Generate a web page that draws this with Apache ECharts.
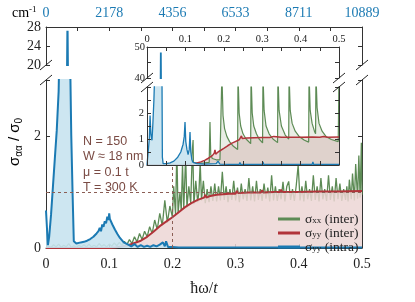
<!DOCTYPE html>
<html><head><meta charset="utf-8">
<script src="https://cdn.jsdelivr.net/npm/echarts@6/dist/echarts.min.js"></script>
<style>html,body{margin:0;padding:0;background:#fff}#c{width:415px;height:302px}</style>
</head><body><div id="c"></div>
<script>
// ---- data ----
const cmLabels = ['0','2178','4356','6533','8711','10889'];
const seriesNames = ['σxx (inter)','σyy (inter)','σyy (intra)'];
const params = ['N = 150','W ≈ 18 nm','μ = 0.1 t','T = 300 K'];

const xxMain = [[0,0],[0.004,0.03],[0.008,0.01],[0.012,0.06],[0.016,0.02],[0.02,0.07],[0.024,0.01],[0.028,0.05],[0.032,0.02],[0.036,0.08],[0.04,0.01],[0.044,0.04],[0.048,0.01],[0.052,0.05],[0.056,0.02],[0.06,0.06],[0.064,0.02],[0.068,0.07],[0.072,0.02],[0.076,0.05],[0.08,0.02],[0.084,0.08],[0.088,0.03],[0.092,0.06],[0.096,0.02],[0.1,0.07],[0.104,0.03],[0.108,0.09],[0.112,0.04],[0.116,0.1],[0.12,0.05],
[0.124,0.12],[0.128,0.06],[0.132,0.15],[0.136,0.08],[0.14,0.2],[0.144,0.11],[0.148,0.26],[0.152,0.15],[0.156,0.3],[0.16,0.2],[0.164,0.38],[0.168,0.26],[0.172,0.5],[0.176,0.33],[0.18,0.62],[0.184,0.4],[0.188,0.85],[0.192,0.45],[0.196,0.75],[0.2,0.55],[0.202,1.1],[0.205,0.6],[0.207,1.75],[0.209,0.62],[0.212,1.0],[0.214,0.66],[0.216,1.5],[0.218,0.7],[0.221,1.65],[0.223,0.72],[0.226,1.1],[0.229,0.8],[0.232,1.9],[0.234,0.78],[0.237,1.2],[0.24,0.82],[0.242,1.0],[0.244,1.53],[0.246,0.85],[0.249,1.2],[0.252,0.8],
[0.255,1.05],[0.258,0.82],[0.261,1.1],[0.264,0.84],[0.267,1.15],[0.27,0.83],[0.273,1.1],[0.276,0.85],[0.279,1.36],[0.282,0.86],[0.285,1.1],[0.288,0.82],[0.291,1.05],[0.294,0.86],[0.297,1.2],[0.3,0.85],[0.303,1.08],[0.306,0.82],[0.309,1.15],[0.312,0.87],[0.315,1.05],[0.318,0.84],[0.321,1.25],[0.324,0.85],[0.327,1.1],[0.33,0.83],[0.333,1.2],[0.336,0.86],[0.339,1.05],[0.342,0.84],[0.345,1.15],[0.348,0.88],[0.351,1.08],[0.354,0.83],[0.357,1.3],[0.36,0.85],[0.363,1.1],[0.366,0.84],[0.369,1.05],[0.372,0.87],[0.375,1.18],[0.378,0.83],[0.381,1.1],[0.384,1.19],[0.387,0.86],[0.39,1.05],[0.393,0.84],[0.396,1.12],[0.399,1.48],[0.402,0.85],[0.405,1.1],[0.408,0.83],[0.411,1.2],[0.414,0.87],[0.417,1.05],[0.42,0.84],[0.423,1.3],[0.426,0.86],[0.429,1.1],[0.432,0.83],[0.435,1.25],[0.438,0.87],[0.441,1.05],[0.444,0.84],[0.447,1.3],[0.45,0.86],[0.453,1.1],[0.456,0.83],[0.459,1.25],[0.462,0.87],[0.465,1.15],[0.468,0.84],[0.471,1.05],[0.474,0.86],[0.476,1.1],[0.478,0.83],[0.48,1.22],[0.483,0.87],[0.485,1.33],[0.488,0.85],[0.49,1.5],[0.493,0.88],[0.495,1.65],[0.497,0.9],[0.499,1.88],[0.5,0.95]];

const yyMain = [[0,0],[0.1,0],[0.11,0.01],[0.12,0.025],[0.13,0.05],[0.14,0.09],[0.15,0.13],[0.16,0.2],[0.17,0.29],[0.18,0.39],[0.19,0.47],[0.2,0.55],[0.21,0.64],[0.22,0.73],[0.23,0.8],[0.24,0.86],[0.25,0.9],[0.252,0.95],[0.254,0.9],[0.26,0.93],[0.27,0.95],[0.28,0.96],[0.29,0.97],[0.3,0.97],[0.302,1.02],[0.304,0.98],[0.32,0.99],[0.34,0.99],[0.342,1.03],[0.344,0.99],[0.36,1.0],[0.37,1.0],[0.372,1.04],[0.374,1.0],[0.4,1.0],[0.43,1.01],[0.432,1.04],[0.434,1.01],[0.46,1.01],[0.5,1.02]];

const intraMain = [[0,0.67],[0.002,0.67],[0.003,0.05],[0.005,0.2],[0.008,0.6],[0.011,1.1],[0.014,1.6],[0.017,2.1],[0.02,2.8],[0.022,4],[0.026,6],[0.03,8],[0.033,12],[0.034,27.2],[0.035,12],[0.037,6],[0.038,3.5],[0.04,2.0],[0.042,1.0],[0.044,0.12],[0.048,0.08],[0.055,0.1],[0.06,0.11],[0.065,0.13],[0.07,0.16],[0.075,0.2],[0.08,0.26],[0.083,0.3],[0.085,0.36],[0.087,0.3],[0.089,0.42],[0.091,0.38],[0.093,0.48],[0.095,0.44],[0.097,0.56],[0.099,0.5],[0.1,0.62],[0.101,0.52],[0.103,0.55],[0.105,0.42],[0.107,0.45],[0.109,0.33],[0.111,0.36],[0.113,0.25],[0.115,0.27],[0.117,0.18],[0.12,0.14],[0.123,0.1],[0.126,0.09],[0.13,0.06],[0.135,0.03],[0.14,0.07],[0.145,0.02],[0.15,0.05],[0.155,0.02],[0.16,0.04],[0.165,0.02],[0.17,0.05],[0.175,0.03],[0.18,0.06],[0.185,0.1],[0.188,0.03],[0.19,0.12],[0.193,0.02],[0.2,0.02],[0.21,0.01],[0.25,0.01],[0.5,0.01]];

const xxInset = [[0,0],[0.02,0.02],[0.04,0.01],[0.06,0.03],[0.08,0.02],[0.1,0.03],[0.115,0.03],[0.119,0.05],[0.12,0.96],[0.121,0.1],[0.13,0.06],[0.15,0.08],[0.162,0.1],[0.164,1.65],[0.166,0.4],[0.17,0.25],[0.18,0.2],[0.19,0.2],[0.194,0.22],[0.195,3.5],[0.198,1.9],[0.202,1.4],[0.208,1.1],[0.215,0.9],[0.225,0.72],[0.236,0.6],[0.237,3.5],[0.24,2.0],[0.244,1.5],[0.25,1.2],[0.258,1.0],[0.27,0.82],[0.271,3.5],[0.274,2.0],[0.278,1.5],[0.285,1.2],[0.292,1.0],[0.301,0.85],[0.302,3.5],[0.305,2.1],[0.31,1.5],[0.318,1.2],[0.328,1.0],[0.34,0.86],[0.341,3.5],[0.344,2.1],[0.35,1.5],[0.36,1.15],[0.369,1.0],[0.37,3.5],[0.373,2.1],[0.378,1.6],[0.386,1.3],[0.396,1.1],[0.41,0.95],[0.421,0.88],[0.422,3.5],[0.425,2.1],[0.43,1.6],[0.436,1.3],[0.439,1.2],[0.44,3.5],[0.443,2.2],[0.448,1.6],[0.456,1.3],[0.466,1.1],[0.48,0.98],[0.498,0.9],[0.5,3.5]];

const yyInset = [[0,0],[0.1,0],[0.11,0.01],[0.12,0.03],[0.13,0.08],[0.14,0.12],[0.15,0.18],[0.16,0.26],[0.17,0.36],[0.175,0.45],[0.177,0.58],[0.179,0.42],[0.185,0.5],[0.19,0.56],[0.2,0.64],[0.21,0.74],[0.22,0.83],[0.23,0.9],[0.24,0.97],[0.245,1.02],[0.246,1.12],[0.248,1.02],[0.26,1.04],[0.28,1.05],[0.3,1.06],[0.32,1.06],[0.33,1.1],[0.335,1.06],[0.35,1.07],[0.38,1.07],[0.4,1.07],[0.43,1.08],[0.45,1.07],[0.46,1.1],[0.47,1.07],[0.5,1.08]];

const intraInset = [[0,0],[0.004,0],[0.006,1.0],[0.008,1.9],[0.01,1.2],[0.013,0.95],[0.015,1.5],[0.018,2.5],[0.02,3.5],[0.025,5],[0.03,6],[0.033,8],[0.035,30],[0.036,48.2],[0.037,30],[0.038,6],[0.039,3.5],[0.04,0.3],[0.042,0.05],[0.05,0.05],[0.06,0.08],[0.07,0.15],[0.08,0.3],[0.088,0.5],[0.094,0.8],[0.097,1.1],[0.099,1.65],[0.101,0.9],[0.104,0.6],[0.107,0.4],[0.11,0.6],[0.112,1.27],[0.114,0.5],[0.117,0.2],[0.12,0.1],[0.13,0.05],[0.15,0.03],[0.18,0.05],[0.185,0.15],[0.19,0.03],[0.24,0.02],[0.242,0.1],[0.244,0.02],[0.3,0.02],[0.302,0.12],[0.304,0.02],[0.35,0.02],[0.352,0.08],[0.354,0.02],[0.43,0.02],[0.432,0.12],[0.434,0.02],[0.5,0.02]];

// ---- styles ----
const BLUE='#1b7ab3', BLUEF='#c8e3f0', GREEN='#5d8b55', RED='#b1343a', PINK='#ecd6d5', BROWN='#7a4b44';
const SERIF='Liberation Serif, Times New Roman, serif';
const SANS='Liberation Sans, Arial, sans-serif';
const axLine={lineStyle:{color:'#333',width:1}};

function xAx(grid,pos,opts){return Object.assign({type:'value',gridIndex:grid,position:pos,min:0,max:0.5,interval:0.05,
  axisLine:axLine,axisTick:{inside:true,length:4,lineStyle:{color:'#333'}},splitLine:{show:false},
  axisLabel:{show:false}},opts);}
function yAx(grid,pos,min,max,interval,opts){return Object.assign({type:'value',gridIndex:grid,position:pos,min:min,max:max,interval:interval,
  axisLine:{show:true,lineStyle:{color:'#333',width:1}},axisTick:{inside:true,length:4,lineStyle:{color:'#333'}},splitLine:{show:false},
  axisLabel:{show:false}},opts);}

const chart=echarts.init(document.getElementById('c'),null,{renderer:'canvas'});
const option={
  animation:false,
  backgroundColor:'#fff',
  grid:[
    {left:46,width:316,top:27,height:38},
    {left:46,width:316,top:80,height:174},
    {left:147,width:192,top:47,height:31,zlevel:1,z:12},
    {left:147,width:192,top:87,height:78,zlevel:1,z:12},
    {left:147,width:192,top:47,height:118,show:true,backgroundColor:'#fff',borderWidth:0,zlevel:1,z:0}
  ],
  xAxis:[
    xAx(0,'top',{axisLabel:{show:true,margin:7,color:BLUE,fontFamily:SERIF,fontSize:14,
      formatter:function(v){const k=Math.round(v/0.05);return k%2?'':cmLabels[k/2];}}}),
    xAx(1,'bottom',{interval:0.1,axisLabel:{show:true,margin:9,color:'#222',fontFamily:SERIF,fontSize:14},
      name:'{n|ħω/}{i|t}',nameLocation:'middle',nameGap:33,
      nameTextStyle:{rich:{n:{fontFamily:SERIF,fontSize:16,color:'#222'},i:{fontFamily:SERIF,fontSize:16,fontStyle:'italic',color:'#222'}}}}),
    xAx(2,'top',{zlevel:1,z:12,axisLabel:{show:true,margin:2,color:'#222',fontFamily:SERIF,fontSize:10.5,
      formatter:function(v){const k=Math.round(v/0.05);return k%2?'':(k/20).toString();}}}),
    xAx(3,'bottom',{zlevel:1,z:12}),
    xAx(4,'bottom',{show:false,zlevel:1})
  ],
  yAxis:[
    yAx(0,'left',20,28,4,{axisLabel:{show:true,margin:5,color:'#222',fontFamily:SERIF,fontSize:14}}),
    yAx(0,'right',20,28,4),
    yAx(1,'left',0,3,1,{axisLabel:{show:true,margin:5,color:'#222',fontFamily:SERIF,fontSize:14,
      formatter:function(v){return (v===0||v===2)?String(v):'';}}}),
    yAx(1,'right',0,3,1),
    yAx(2,'left',40,50,5,{zlevel:1,z:12,axisLabel:{show:true,margin:2,color:'#222',fontFamily:SERIF,fontSize:10.5,
      formatter:function(v){return v===45?'':String(v);}}}),
    yAx(2,'right',40,50,5,{zlevel:1,z:12}),
    yAx(3,'left',0,3,0.5,{zlevel:1,z:12,axisLabel:{show:true,margin:3,color:'#222',fontFamily:SERIF,fontSize:10.5,
      formatter:function(v){return (v===0||v===1||v===2)?String(v):'';}}}),
    yAx(3,'right',0,3,0.5,{zlevel:1,z:12}),
    yAx(4,'left',0,1,1,{show:false,zlevel:1})
  ],
  legend:{
    data:seriesNames, orient:'vertical', left:273, top:207, itemWidth:22, itemHeight:3, itemGap:0, icon:'rect', z:20,
    formatter:function(name){const m=name.match(/^σ(\w+) (.*)$/);return '{g|σ}{s|'+m[1]+'}{g| '+m[2]+'}';},
    textStyle:{rich:{g:{fontFamily:SERIF,fontSize:13.5,color:'#222',lineHeight:13},s:{fontFamily:SERIF,fontSize:9,color:'#222',lineHeight:8,verticalAlign:'bottom'}}}
  },
  series:[
    {name:seriesNames[0],type:'line',xAxisIndex:1,yAxisIndex:2,data:xxMain,showSymbol:false,symbol:'none',z:2,clip:true,
      lineStyle:{color:GREEN,width:1.3},itemStyle:{color:GREEN},
      markLine:{silent:true,symbol:'none',label:{show:false},lineStyle:{color:'#8b5e55',type:[3,3],width:1},
        data:[{yAxis:1},{xAxis:0.2}]}},
    {name:seriesNames[1],type:'line',xAxisIndex:1,yAxisIndex:2,data:yyMain,showSymbol:false,symbol:'none',z:3,clip:true,
      lineStyle:{color:RED,width:2},itemStyle:{color:RED},areaStyle:{color:PINK,opacity:0.85}},
    {name:seriesNames[2],type:'line',xAxisIndex:1,yAxisIndex:2,data:intraMain,showSymbol:false,symbol:'none',z:4,clip:true,
      lineStyle:{color:BLUE,width:2},itemStyle:{color:BLUE},areaStyle:{color:BLUEF,opacity:0.9}},
    {name:seriesNames[2],type:'line',xAxisIndex:0,yAxisIndex:0,data:intraMain,showSymbol:false,symbol:'none',z:4,clip:true,
      lineStyle:{color:BLUE,width:2.2},itemStyle:{color:BLUE}},
    {name:seriesNames[0],type:'line',xAxisIndex:3,yAxisIndex:6,data:xxInset,showSymbol:false,symbol:'none',zlevel:1,z:10,clip:true,
      lineStyle:{color:GREEN,width:1.2},itemStyle:{color:GREEN},areaStyle:{color:'rgba(150,170,130,0.3)'}},
    {name:seriesNames[1],type:'line',xAxisIndex:3,yAxisIndex:6,data:yyInset,showSymbol:false,symbol:'none',zlevel:1,z:10,clip:true,
      lineStyle:{color:RED,width:1.5},itemStyle:{color:RED},areaStyle:{color:'rgba(200,150,150,0.45)'}},
    {name:seriesNames[2],type:'line',xAxisIndex:3,yAxisIndex:6,data:intraInset,showSymbol:false,symbol:'none',zlevel:1,z:11,clip:true,
      lineStyle:{color:BLUE,width:1.3},itemStyle:{color:BLUE},areaStyle:{color:BLUEF,opacity:0.9}},
    {name:seriesNames[2],type:'line',xAxisIndex:2,yAxisIndex:4,data:intraInset,showSymbol:false,symbol:'none',zlevel:1,z:11,clip:true,
      lineStyle:{color:BLUE,width:1.8},itemStyle:{color:BLUE}}
  ],
  graphic:[
    {type:'text',x:83,y:134,zlevel:2,z:20,style:{text:params.join('\n'),font:'12.5px '+SANS,fill:BROWN,lineHeight:15.3}},
    {type:'text',x:12,y:13,z:20,style:{text:'{a|cm}{b|-1}',verticalAlign:'middle',
      rich:{a:{fontFamily:SERIF,fontSize:14,color:BLUE,lineHeight:16},b:{fontFamily:SERIF,fontSize:9,color:BLUE,lineHeight:9,verticalAlign:'top'}}}},
    {type:'text',x:15,y:142,rotation:Math.PI/2,z:20,style:{text:'{a|σ}{b|αα}{a| / σ}{b|0}',align:'center',verticalAlign:'middle',
      rich:{a:{fontFamily:SANS,fontSize:15,color:'#222',lineHeight:18},b:{fontFamily:SANS,fontSize:10,color:'#222',lineHeight:10,verticalAlign:'bottom'}}}}
  ]
};
// break marks
[[46,65],[46,80],[362,65],[362,80],[147,78],[147,87],[339,78],[339,87]].forEach(function(p){
  option.graphic.push({type:'line',zlevel:2,z:20,shape:{x1:p[0]-6,y1:p[1]+5,x2:p[0]+6,y2:p[1]-5},style:{stroke:'#222',lineWidth:1}});
});
chart.setOption(option);
</script></body></html>
